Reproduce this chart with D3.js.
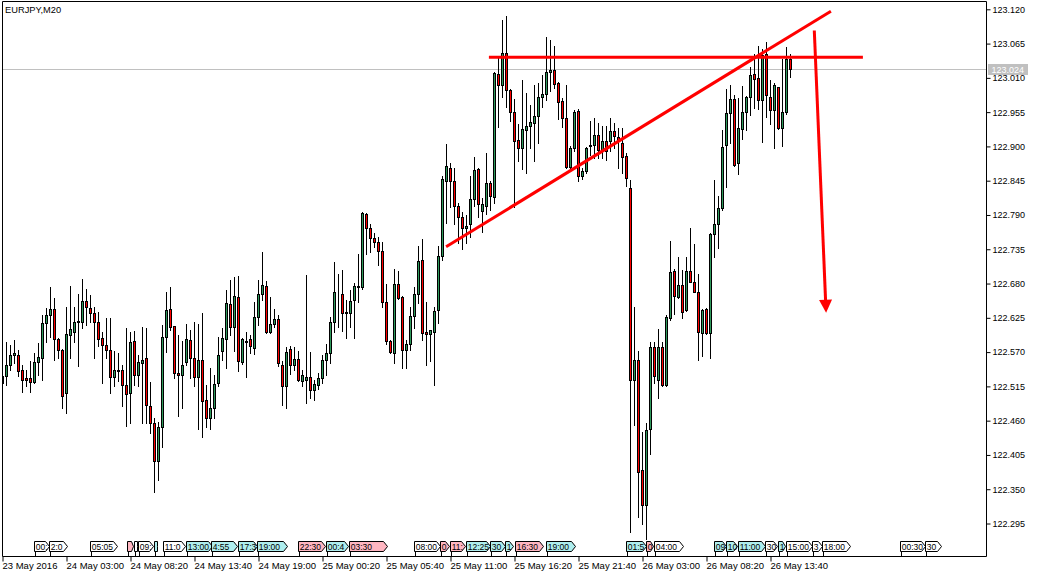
<!DOCTYPE html>
<html><head><meta charset="utf-8">
<script src="https://cdn.jsdelivr.net/npm/d3@7"></script>
<style>
html,body{margin:0;padding:0;background:#fff;overflow:hidden;}
svg{display:block;font-family:"Liberation Sans",Arial,sans-serif;}
</style></head><body>
<svg id="chart" width="1039" height="578"></svg>
<script>
const symbolTitle = "EURJPY,M20";
const openP = [122.520,122.531,122.549,122.566,122.566,122.541,122.528,122.528,122.522,122.554,122.560,122.616,122.630,122.639,122.591,122.574,122.504,122.598,122.603,122.619,122.619,122.652,122.640,122.632,122.619,122.592,122.581,122.574,122.530,122.540,122.542,122.517,122.504,122.588,122.534,122.553,122.560,122.484,122.457,122.396,122.450,122.594,122.639,122.612,122.536,122.534,122.554,122.589,122.561,122.530,122.558,122.493,122.464,122.480,122.520,122.572,122.591,122.647,122.611,122.659,122.554,122.587,122.591,122.576,122.627,122.663,122.676,122.602,122.615,122.623,122.550,122.516,122.575,122.550,122.559,122.523,122.526,122.530,122.509,122.517,122.528,122.557,122.568,122.618,122.666,122.663,122.632,122.632,122.654,122.675,122.675,122.792,122.769,122.753,122.747,122.732,122.650,122.588,122.568,122.679,122.659,122.574,122.583,122.628,122.663,122.718,122.602,122.599,122.603,122.638,122.724,122.845,122.866,122.844,122.804,122.787,122.769,122.775,122.815,122.863,122.797,122.805,122.841,122.819,123.016,122.998,123.050,122.991,122.955,122.910,122.898,122.926,122.933,122.937,122.949,122.980,122.984,123.019,123.023,123.001,122.973,122.945,122.867,122.897,122.957,122.852,122.861,122.900,122.902,122.918,122.894,122.909,122.909,122.925,122.915,122.906,122.885,122.833,122.525,122.557,122.381,122.325,122.446,122.578,122.526,122.578,122.517,122.624,122.700,122.659,122.678,122.638,122.700,122.682,122.667,122.601,122.639,122.601,122.760,122.776,122.801,122.902,122.953,122.976,122.873,122.928,122.956,122.979,123.016,123.009,122.975,123.048,122.979,122.958,122.995,122.929,122.956,123.041];
const highP = [122.533,122.587,122.581,122.589,122.573,122.549,122.541,122.555,122.568,122.584,122.630,122.640,122.674,122.656,122.592,122.575,122.643,122.676,122.643,122.664,122.687,122.671,122.662,122.643,122.635,122.603,122.624,122.625,122.571,122.568,122.550,122.608,122.603,122.604,122.565,122.611,122.608,122.522,122.465,122.458,122.614,122.667,122.674,122.612,122.597,122.588,122.615,122.606,122.619,122.615,122.632,122.518,122.544,122.534,122.595,122.608,122.669,122.686,122.691,122.692,122.592,122.603,122.597,122.651,122.686,122.730,122.684,122.658,122.639,122.630,122.556,122.578,122.579,122.578,122.571,122.542,122.694,122.570,122.525,122.536,122.565,122.583,122.627,122.715,122.695,122.701,122.654,122.670,122.681,122.727,122.794,122.793,122.776,122.761,122.755,122.747,122.680,122.589,122.703,122.700,122.660,122.589,122.642,122.674,122.741,122.751,122.651,122.606,122.643,122.741,122.853,122.904,122.874,122.865,122.810,122.795,122.790,122.852,122.883,122.865,122.817,122.890,122.844,123.020,123.044,123.103,123.109,122.992,122.976,122.936,123.006,122.986,122.967,122.999,123.002,123.015,123.075,123.070,123.061,123.004,122.978,122.999,122.900,122.959,122.960,122.865,122.899,122.940,122.945,122.937,122.933,122.932,122.945,122.937,122.929,122.930,122.889,122.846,122.643,122.572,122.442,122.456,122.587,122.587,122.607,122.587,122.630,122.748,122.703,122.723,122.701,122.723,122.769,122.744,122.695,122.639,122.640,122.761,122.846,122.821,122.927,122.992,122.999,122.983,122.977,122.997,122.981,123.028,123.048,123.061,123.057,123.067,123.006,123.001,122.996,123.040,123.059,123.048];
const lowP = [122.518,122.517,122.541,122.552,122.531,122.506,122.516,122.506,122.520,122.533,122.525,122.587,122.595,122.557,122.560,122.481,122.472,122.560,122.587,122.548,122.608,122.614,122.619,122.561,122.580,122.521,122.560,122.505,122.515,122.523,122.484,122.452,122.457,122.517,122.516,122.456,122.456,122.440,122.345,122.365,122.418,122.570,122.606,122.528,122.468,122.480,122.549,122.528,122.515,122.447,122.433,122.450,122.447,122.464,122.515,122.557,122.544,122.597,122.571,122.539,122.551,122.530,122.569,122.567,122.613,122.654,122.600,122.600,122.611,122.547,122.485,122.480,122.535,122.541,122.523,122.515,122.488,122.496,122.493,122.510,122.521,122.533,122.553,122.603,122.610,122.604,122.592,122.610,122.592,122.651,122.671,122.728,122.731,122.739,122.710,122.643,122.583,122.568,122.552,122.655,122.544,122.544,122.573,122.608,122.649,122.589,122.549,122.556,122.518,122.617,122.718,122.777,122.803,122.776,122.745,122.735,122.745,122.755,122.804,122.787,122.763,122.792,122.798,122.810,122.931,122.980,122.964,122.941,122.803,122.877,122.863,122.858,122.898,122.876,122.906,122.964,122.975,122.989,122.993,122.944,122.931,122.865,122.860,122.892,122.844,122.847,122.857,122.886,122.881,122.881,122.881,122.878,122.893,122.897,122.865,122.857,122.836,122.282,122.453,122.306,122.295,122.270,122.407,122.520,122.496,122.515,122.516,122.622,122.631,122.656,122.624,122.636,122.682,122.666,122.557,122.564,122.599,122.561,122.722,122.737,122.798,122.835,122.906,122.869,122.856,122.912,122.926,122.950,122.961,122.960,122.907,122.947,122.936,122.897,122.928,122.901,122.952,123.011];
const closeP = [122.531,122.549,122.565,122.568,122.540,122.526,122.526,122.522,122.554,122.562,122.616,122.630,122.639,122.591,122.574,122.499,122.599,122.607,122.618,122.620,122.652,122.642,122.632,122.619,122.591,122.581,122.574,122.530,122.541,122.542,122.517,122.502,122.586,122.534,122.554,122.558,122.485,122.456,122.396,122.450,122.595,122.638,122.610,122.537,122.534,122.550,122.591,122.560,122.530,122.558,122.492,122.464,122.480,122.519,122.566,122.592,122.648,122.611,122.660,122.555,122.591,122.588,122.579,122.626,122.663,122.678,122.603,122.615,122.623,122.552,122.515,122.570,122.550,122.559,122.525,122.534,122.530,122.509,122.519,122.528,122.557,122.568,122.618,122.666,122.667,122.632,122.634,122.652,122.676,122.676,122.793,122.769,122.753,122.747,122.733,122.650,122.588,122.570,122.679,122.657,122.574,122.583,122.628,122.663,122.716,122.600,122.599,122.605,122.636,122.724,122.847,122.868,122.844,122.804,122.787,122.769,122.773,122.815,122.862,122.807,122.807,122.842,122.821,123.017,122.998,123.050,122.991,122.956,122.909,122.898,122.928,122.933,122.939,122.949,122.979,122.984,123.020,123.023,123.000,122.971,122.945,122.867,122.897,122.955,122.853,122.861,122.897,122.902,122.919,122.894,122.909,122.893,122.925,122.916,122.908,122.883,122.849,122.525,122.557,122.378,122.325,122.445,122.578,122.532,122.578,122.517,122.627,122.699,122.660,122.678,122.635,122.700,122.683,122.667,122.602,122.638,122.600,122.760,122.776,122.801,122.899,122.953,122.976,122.870,122.929,122.956,122.979,123.015,123.008,122.975,123.047,122.983,122.958,122.998,122.929,122.955,123.040,123.024];

const timeLabels = ["23 May 2016","24 May 03:00","24 May 08:20","24 May 13:40","24 May 19:00","25 May 00:20","25 May 05:40","25 May 11:00","25 May 16:20","25 May 21:40","26 May 03:00","26 May 08:20","26 May 13:40"];
const timeLabelBars = [0,16,32,48,64,80,96,112,128,144,160,176,192];
const priceTicks = [123.120,123.065,123.010,122.955,122.900,122.845,122.790,122.735,122.680,122.625,122.570,122.515,122.460,122.405,122.350,122.295];
const currentPrice = 123.024;

// hand-drawn objects (bar index, price)
const hLineBars = [121.6, 215.1];
const hLinePrice = 123.043;
const trendBars = [110.9, 207.1];
const trendPrices = [122.739, 123.117];
const arrowBars = [202.95, 205.9];
const arrowPrices = [123.086, 122.633];

// calendar event markers
const eventText = ["00:30","2:00","05:05","0","0","09:","1","11:00","13:00","4:55","17:30","19:00","22:30","00:45","03:30","08:00","0","11:","12:25","30","1","16:30","19:00","01:5","0","04:00","09","10","11:00","30","1","15:00","30","18:00","00:30","30"];
const eventFrom = [7.95,11.70,21.88,31.13,32.88,33.88,37.88,40.13,45.88,52.13,58.88,63.63,73.88,80.88,86.63,102.88,109.38,111.88,115.88,121.88,125.63,128.13,135.88,155.88,160.88,162.88,177.88,180.88,183.88,190.63,193.88,195.88,202.38,204.88,224.38,230.63];
const eventTo = [11.70,16.13,28.63,32.63,33.63,37.63,38.63,45.63,52.38,58.63,63.63,71.13,80.63,86.38,96.13,109.38,111.63,115.63,121.88,125.63,127.63,135.13,143.13,160.88,162.63,170.13,180.88,183.63,190.63,193.63,195.63,202.38,204.88,211.88,230.63,234.63];
const eventKind = ["n","n","n","h","n","n","l","n","l","l","l","l","h","l","h","n","h","h","l","l","l","h","l","l","h","n","l","l","l","n","l","n","n","n","n","n"];

const L = 2.5, R = 986.5, T = 1.5, B = 556.5;
const svg = d3.select("#chart");

const x = d3.scaleLinear().domain([0, 197]).range([2.5, 790.5]);
const y = d3.scaleLinear().domain([122.295, 123.120]).range([523.5, 9.3]);

const GREEN = "#2e9a5c", RED = "#ff0000";

svg.append("defs").append("clipPath").attr("id","plotclip")
  .append("rect").attr("x",L).attr("y",T).attr("width",R-L).attr("height",B-T);
const plot = svg.append("g").attr("clip-path","url(#plotclip)");

// bid line
const by = Math.round(y(currentPrice)) + 0.5;
plot.append("line").attr("x1",L).attr("x2",R).attr("y1",by).attr("y2",by)
  .attr("stroke","#c0c0c0").attr("stroke-width",1);

// candles
const idx = d3.range(openP.length);
const cg = plot.append("g");
cg.selectAll("line.wick").data(idx).join("line").attr("class","wick")
  .attr("x1",i=>x(i)).attr("x2",i=>x(i))
  .attr("y1",i=>Math.round(y(highP[i]))).attr("y2",i=>Math.round(y(lowP[i]))+1)
  .attr("stroke","#000").attr("stroke-width",1).attr("shape-rendering","crispEdges");
cg.selectAll("rect.body").data(idx).join("rect").attr("class","body")
  .attr("x",i=>x(i)-1)
  .attr("y",i=>Math.round(y(Math.max(openP[i],closeP[i])))+0.5)
  .attr("width",2)
  .attr("height",i=>Math.max(0, Math.round(y(Math.min(openP[i],closeP[i]))) - Math.round(y(Math.max(openP[i],closeP[i])))))
  .attr("fill",i=>closeP[i]>=openP[i]?GREEN:RED)
  .attr("stroke","#000").attr("stroke-width",1).attr("shape-rendering","crispEdges");

// drawn objects
plot.append("line")
  .attr("x1",x(hLineBars[0])).attr("x2",x(hLineBars[1]))
  .attr("y1",y(hLinePrice)).attr("y2",y(hLinePrice))
  .attr("stroke",RED).attr("stroke-width",3);
plot.append("line")
  .attr("x1",x(trendBars[0])).attr("x2",x(trendBars[1]))
  .attr("y1",y(trendPrices[0])).attr("y2",y(trendPrices[1]))
  .attr("stroke",RED).attr("stroke-width",3);
{
  const x0 = x(arrowBars[0]), y0 = y(arrowPrices[0]);
  const x1 = x(arrowBars[1]), y1 = y(arrowPrices[1]);
  const dx = x1-x0, dy = y1-y0, len = Math.hypot(dx,dy);
  const ux = dx/len, uy = dy/len, px = -uy, py = ux;
  const hl = 13, hw = 6.5;
  const bx = x1 - ux*hl, byy = y1 - uy*hl;
  plot.append("line").attr("x1",x0).attr("y1",y0).attr("x2",bx+ux).attr("y2",byy+uy)
    .attr("stroke",RED).attr("stroke-width",3);
  plot.append("path")
    .attr("d",`M${x1},${y1}L${bx+px*hw},${byy+py*hw}L${bx-px*hw},${byy-py*hw}Z`)
    .attr("fill",RED);
}

// event markers
const evFill = {n:"#ffffff", h:"#ffb6c1", l:"#afeeee"};
const eg = svg.append("g");
const ey0 = 541.5, ey1 = 551.5;
eventText.forEach((t,k)=>{
  const xa = Math.round(x(eventFrom[k]))+0.5, xb = Math.round(x(eventTo[k]))+0.5;
  const tip = Math.min(4, Math.max(0, xb-xa-4));
  const d = `M${xa},${ey0}H${xb-tip}L${xb},${(ey0+ey1)/2}L${xb-tip},${ey1}H${xa}Z`;
  eg.append("line").attr("x1",xa+1).attr("x2",xa+1).attr("y1",ey1).attr("y2",B)
    .attr("stroke","#000").attr("stroke-width",1);
  eg.append("path").attr("d",d).attr("fill",evFill[eventKind[k]]).attr("stroke","#000").attr("stroke-width",1);
  const tx = eg.append("text").attr("x",xa+1.2).attr("y",ey1-2)
    .attr("font-size","8.5px").attr("fill","#000").text(t);
  const avail = xb - xa - 1.5;
  let s = t;
  while (s.length > 0 && tx.node().getComputedTextLength() > avail) {
    s = s.slice(0, -1);
    tx.text(s);
  }
});

// frame
svg.append("line").attr("x1",L).attr("x2",R).attr("y1",T).attr("y2",T).attr("stroke","#000");
svg.append("line").attr("x1",L).attr("x2",L).attr("y1",T).attr("y2",B).attr("stroke","#000");
svg.append("line").attr("x1",R).attr("x2",R).attr("y1",T).attr("y2",B).attr("stroke","#000");
svg.append("line").attr("x1",L).attr("x2",R).attr("y1",B).attr("y2",B).attr("stroke","#000");

// price axis
const ya = svg.append("g").attr("transform",`translate(${R},0)`)
  .call(d3.axisRight(y).tickValues(priceTicks).tickFormat(d3.format(".3f")).tickSize(4).tickPadding(2));
ya.select(".domain").remove();
ya.selectAll(".tick line").attr("stroke","#000");
ya.selectAll(".tick text").attr("font-size","9px").attr("font-family","Liberation Sans, Arial, sans-serif").attr("fill","#000");

// current price label
svg.append("rect").attr("x",988).attr("y",64).attr("width",40).attr("height",11).attr("fill","#c0c0c0");
svg.append("text").attr("x",991.5).attr("y",72.8).attr("font-size","9px").attr("fill","#fff")
  .text(d3.format(".3f")(currentPrice));

// time axis
const xa = svg.append("g").attr("transform",`translate(0,${B})`)
  .call(d3.axisBottom(x).tickValues(timeLabelBars).tickFormat((d,i)=>timeLabels[i]).tickSize(5));
xa.select(".domain").remove();
xa.selectAll(".tick line").attr("stroke","#000");
xa.selectAll(".tick text").attr("text-anchor","start").attr("x",-0.5).attr("y",12).attr("dy",0)
  .attr("font-size","9.5px").attr("font-family","Liberation Sans, Arial, sans-serif").attr("fill","#000");

// title
svg.append("text").attr("x",5).attr("y",13.3).attr("font-size","9.3px").attr("fill","#000").text(symbolTitle);
</script>
</body></html>
